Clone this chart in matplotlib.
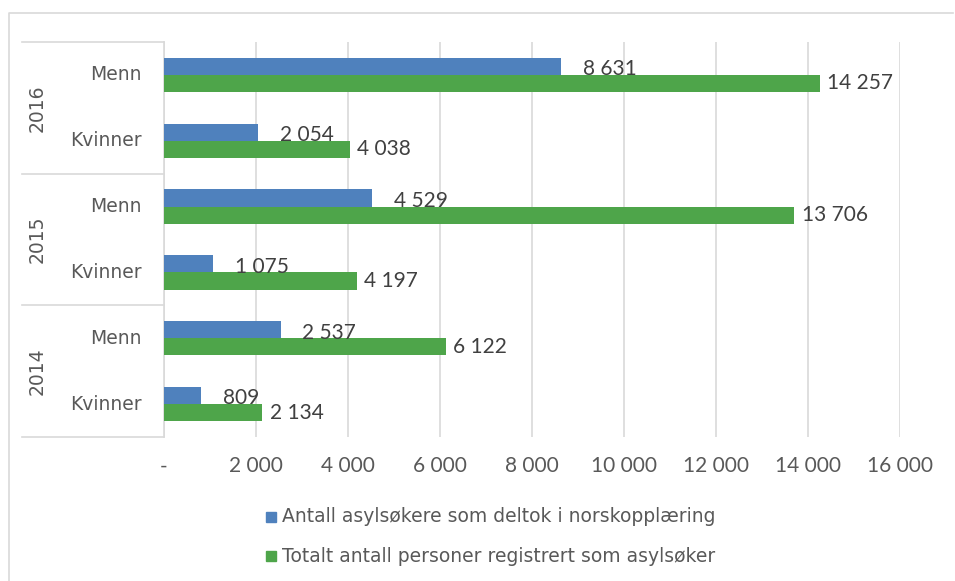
import numpy as np
import matplotlib
matplotlib.use('Agg')
import matplotlib.pyplot as plt
import matplotlib.transforms as mtransforms
from matplotlib.patches import Rectangle
from matplotlib.lines import Line2D

# data, bottom -> top (2014 Kvinner first)
years = ['2014', '2015', '2016']
genders = ['Kvinner', 'Menn']
deltok = [809, 2537, 1075, 4529, 2054, 8631]
totalt = [2134, 6122, 4197, 13706, 4038, 14257]
ticks = [0, 2000, 4000, 6000, 8000, 10000, 12000, 14000, 16000]
legend_labels = ['Antall asylsøkere som deltok i norskopplæring',
                 'Totalt antall personer registrert som asylsøker']

blue = '#4f81bd'
green = '#4ea54a'
grey_txt = '#595959'
line_col = '#d9d9d9'


def fmt(v):
    if v == 0:
        return '-'
    return '{:,}'.format(v).replace(',', ' ')


fig = plt.figure(figsize=(9.55, 5.81), dpi=100)
W, H = 955, 581
ax = fig.add_axes([164 / W, 1 - 437 / H, 736 / W, 395 / H])

# outer frame (top and left edges only visible)
fig.lines.append(Line2D([9 / W, 9 / W, 953 / W], [0, 1 - 13 / H, 1 - 13 / H],
                        transform=fig.transFigure, color=line_col,
                        linewidth=1.2))

y = np.arange(len(deltok))
h = 0.26
ax.barh(y + h / 2, deltok, height=h, color=blue, zorder=3)
ax.barh(y - h / 2, totalt, height=h, color=green, zorder=3)

for yi, v in zip(y, deltok):
    ax.text(v + 470, yi + h / 2 - 0.045, fmt(v), va='center', ha='left',
            fontsize=15, family='Lato', color='#404040')
for yi, v in zip(y, totalt):
    ax.text(v + 160, yi - h / 2, fmt(v), va='center', ha='left',
            fontsize=15, family='Lato', color='#404040')

ax.set_xlim(0, 16000)
ax.set_ylim(-0.5, len(deltok) - 0.5)
ax.set_xticks(ticks)
ax.set_xticklabels([fmt(t) for t in ticks], fontsize=15, family='Lato',
                   color=grey_txt)
ax.tick_params(axis='x', length=0, pad=14)
ax.set_yticks([])
for s in ['top', 'right', 'bottom']:
    ax.spines[s].set_visible(False)
ax.spines['left'].set_color(line_col)
ax.spines['left'].set_linewidth(1.2)
ax.grid(axis='x', color=line_col, linewidth=1.2, zorder=0)

# category labels with years grouped
tr = mtransforms.blended_transform_factory(ax.transAxes, ax.transData)
for i, yi in enumerate(y):
    ax.text(-0.030, yi, genders[i % 2], transform=tr, ha='right',
            va='center', fontsize=13.5, color=grey_txt)
for j, yr in enumerate(years):
    ax.text(-0.1726, 2 * j + 0.5, yr, transform=tr, ha='center',
            va='center', rotation=90, fontsize=13.5, color=grey_txt)
for yb in [-0.5, 1.5, 3.5, 5.5]:
    ax.plot([-0.193, 0], [yb, yb], transform=tr, color=line_col,
            linewidth=1.2, clip_on=False)

# legend
leg_y = [517, 556]
for c, lab, ly in zip([blue, green], legend_labels, leg_y):
    fig.patches.append(Rectangle((266 / W, 1 - (ly + 5) / H), 10 / W, 10 / H,
                                 transform=fig.transFigure, color=c))
    fig.text(282 / W, 1 - ly / H, lab, ha='left', va='center', fontsize=13.5,
             color=grey_txt)

fig.savefig('out.png', dpi=100)
